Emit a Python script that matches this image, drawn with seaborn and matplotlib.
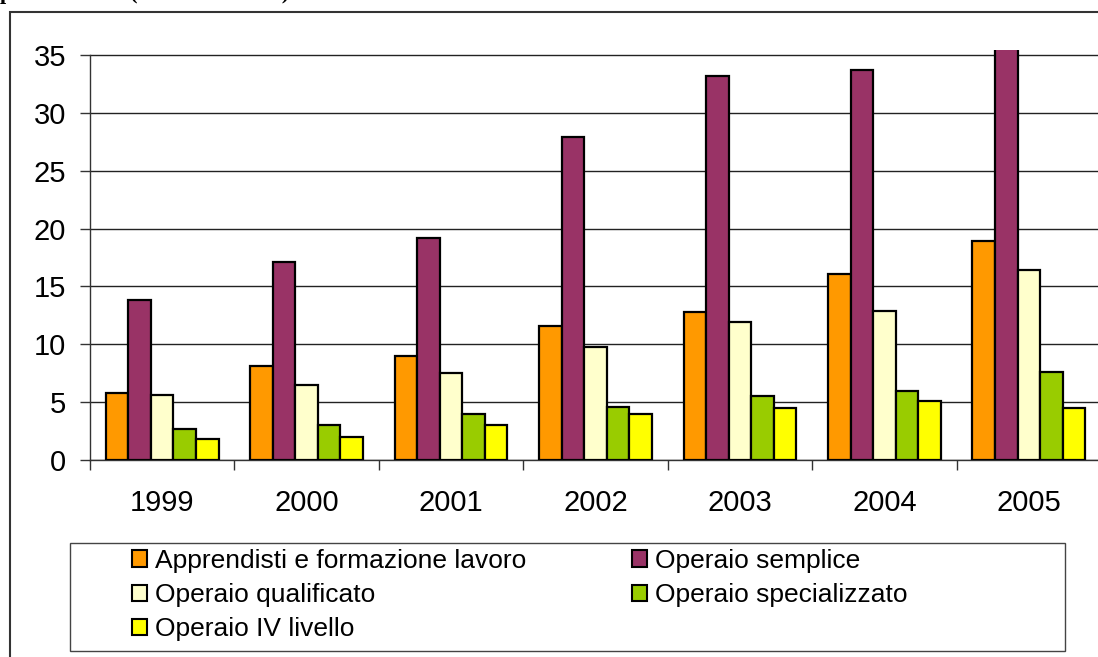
import pandas as pd
import matplotlib
matplotlib.use("Agg")
import matplotlib.pyplot as plt
from matplotlib.patches import Rectangle, Patch
import seaborn as sns

# =============================
#  Dati
# =============================
years = ["1999", "2000", "2001", "2002", "2003", "2004", "2005"]
categories = [
    "Apprendisti e formazione lavoro",
    "Operaio semplice",
    "Operaio qualificato",
    "Operaio specializzato",
    "Operaio IV livello",
]
apprendisti = [5.8, 8.1, 9.0, 11.6, 12.8, 16.1, 18.9]
semplice = [13.8, 17.1, 19.2, 27.9, 33.2, 33.7, 36.5]
qualificato = [5.6, 6.5, 7.5, 9.8, 11.9, 12.9, 16.4]
specializzato = [2.7, 3.0, 4.0, 4.6, 5.5, 6.0, 7.6]
quarto_livello = [1.85, 2.0, 3.0, 4.0, 4.5, 5.1, 4.5]
colors = ["#FF9900", "#993366", "#FFFFCC", "#99CC00", "#FFFF00"]

series = [apprendisti, semplice, qualificato, specializzato, quarto_livello]
rows = []
for cat, vals in zip(categories, series):
    for y, v in zip(years, vals):
        rows.append({"anno": y, "qualifica": cat, "valore": v})
df = pd.DataFrame(rows)

# =============================
#  Figura
# =============================
W, H = 1098, 657
sns.set_style("white")
plt.rcParams["font.family"] = ["Liberation Sans", "DejaVu Sans"]
plt.rcParams["text.color"] = "black"
plt.rcParams["xtick.color"] = "black"
plt.rcParams["ytick.color"] = "black"

fig = plt.figure(figsize=(W / 100, H / 100), dpi=100)


def fx(x):
    return x / W


def fy(y):
    return 1 - y / H


ax = fig.add_axes([fx(90), fy(460), fx(1101) - fx(90), (460 - 50) / H])

sns.barplot(data=df, x="anno", y="valore", hue="qualifica", hue_order=categories,
            palette=dict(zip(categories, colors)), saturation=1, width=0.78,
            edgecolor="black", linewidth=1.6, ax=ax, legend=False, zorder=3)

ax.set_xlim(-0.5, 6.5)
ax.set_ylim(0, 35 + 5 / (405 / 35))
ax.set_yticks(range(0, 36, 5))
ax.set_xlabel("")
ax.set_ylabel("")

ax.yaxis.grid(True, color="#222222", linewidth=1.0)
ax.set_axisbelow(True)
for s in ["top", "right"]:
    ax.spines[s].set_visible(False)
for s in ["left", "bottom"]:
    ax.spines[s].set_color("#333333")
    ax.spines[s].set_linewidth(1.0)
ax.spines["left"].set_bounds(0, 35)

ax.tick_params(axis="y", direction="out", length=7.2, width=1, color="#333333",
               labelsize=21, pad=10, left=True)
ax.set_xticks(range(len(years)))
ax.set_xticks([i - 0.5 for i in range(len(years) + 1)], minor=True)
ax.tick_params(axis="x", which="major", length=0, labelsize=21, pad=21)
ax.tick_params(axis="x", which="minor", direction="out", length=7.2, width=1,
               color="#333333", bottom=True)

# =============================
#  Legenda
# =============================
order = [0, 2, 4, 1, 3]
handles = [Patch(facecolor=colors[i], edgecolor="black", linewidth=1.5) for i in order]
labels = [categories[i] for i in order]
fig.legend(handles, labels, ncol=2, frameon=False, fontsize=19,
           loc="upper left", bbox_to_anchor=(fx(131.7), fy(549)),
           borderpad=0, borderaxespad=0, handlelength=0.58, handleheight=0.58,
           handletextpad=0.3, labelspacing=0.38, columnspacing=4.0)

fig.patches.append(Rectangle((fx(70), fy(650.7)), fx(1065) - fx(70), (650.7 - 542.7) / H,
                             transform=fig.transFigure, fill=False,
                             edgecolor="#444444", linewidth=1.0))
# cornice esterna
fig.patches.append(Rectangle((fx(10), fy(720)), fx(1200), (720 - 12) / H,
                             transform=fig.transFigure, fill=False,
                             edgecolor="#333333", linewidth=1.5))

fig.text(fx(0), fy(-0.5), "professionale (anni 1999-2005)", fontsize=16,
         fontweight="bold", family=["Liberation Serif", "DejaVu Serif"],
         ha="left", va="baseline")

fig.savefig("out.png", dpi=100)
plt.close()
